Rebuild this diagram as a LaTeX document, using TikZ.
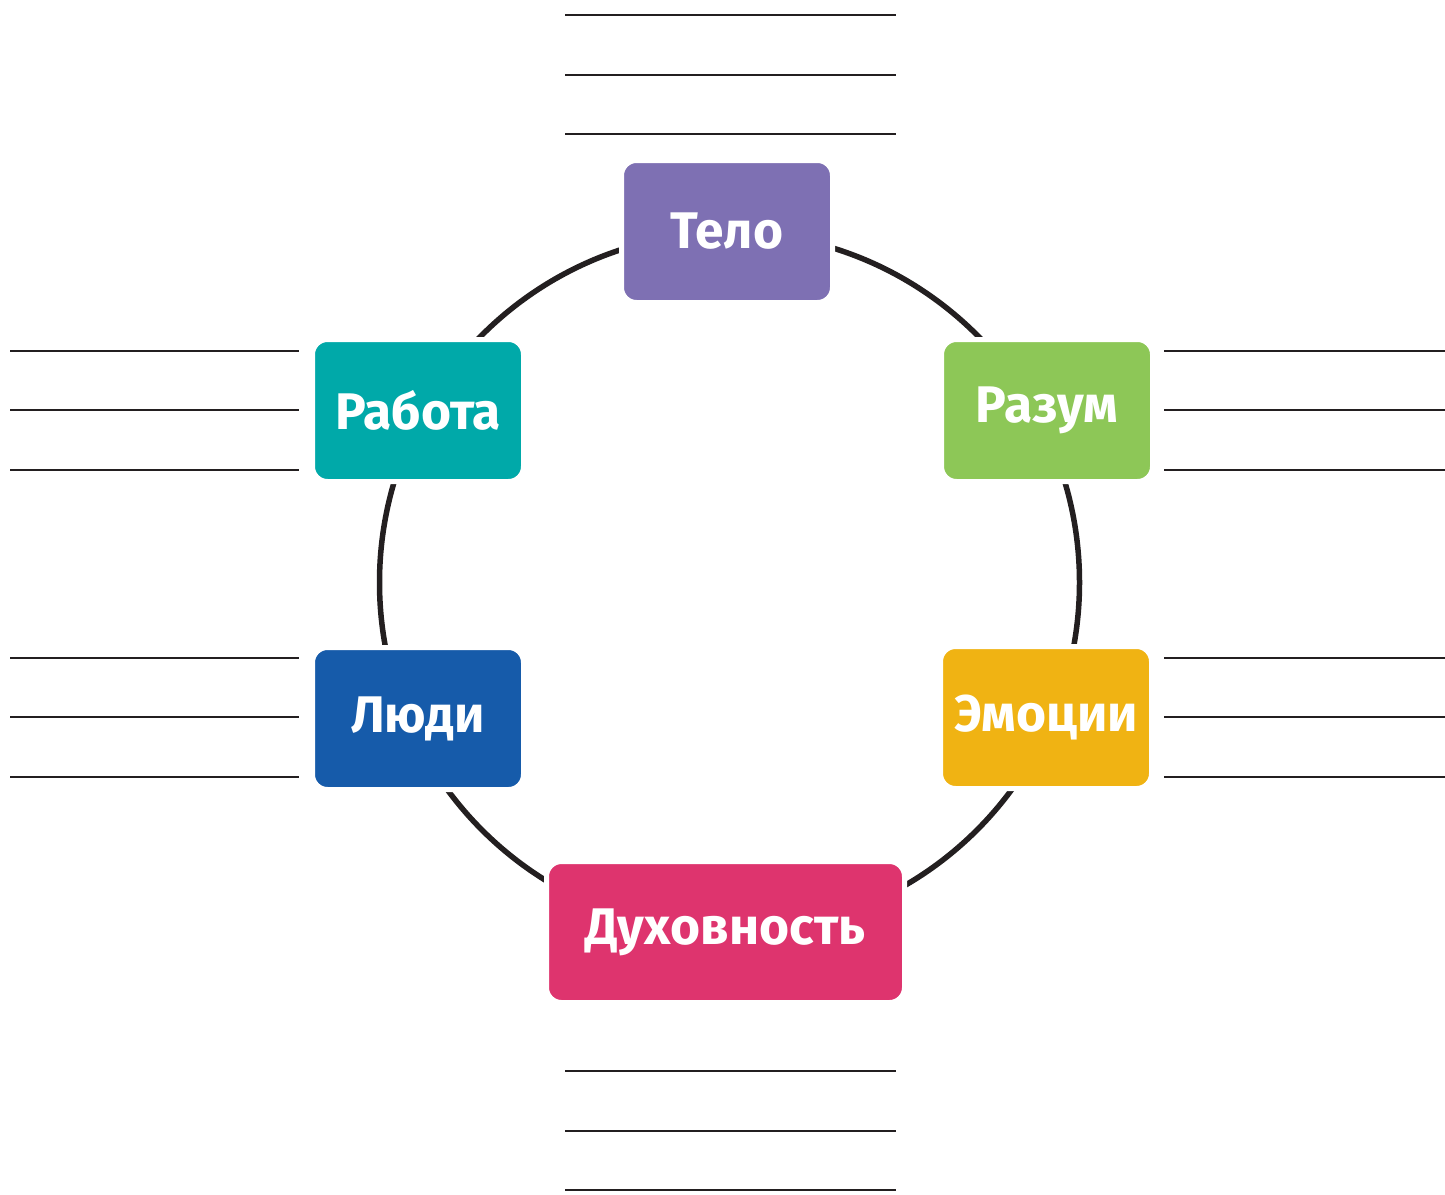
\documentclass[tikz,border=0pt]{standalone}
\usepackage{fontspec}
\setmainfont{Fira Sans}
\definecolor{cTelo}{HTML}{7E70B3}
\definecolor{cRabota}{HTML}{00A9A9}
\definecolor{cRazum}{HTML}{8DC757}
\definecolor{cLyudi}{HTML}{165BAA}
\definecolor{cEmocii}{HTML}{F0B313}
\definecolor{cDuh}{HTML}{DE346E}
\definecolor{ink}{HTML}{231F20}
\begin{document}
\begin{tikzpicture}[x=1pt,y=-1pt,
  box/.style={rounded corners=15pt, draw=white, line width=5pt, minimum width=211pt, minimum height=142pt,
    inner sep=0pt, text=white, font=\fontsize{51.5}{60}\selectfont\bfseries},
  rule/.style={draw=ink, line width=2.6pt}]
\useasboundingbox (0,0) rectangle (1445,1194);
\coordinate (c) at (729.5,582.5);
\draw[ink, line width=5.5pt] (c) circle[radius=350];
\node[box, fill=cTelo] (telo) at (727,231.5) {Тело};
\node[box, fill=cRabota] (rabota) at (418,410.5) {Работа};
\node[box, fill=cRazum] (razum) at (1047,410.5) {Разум};
\node[box, fill=cLyudi] (lyudi) at (418,718.5) {Люди};
\node[box, fill=cEmocii] (emocii) at (1046,717.5) {Эмоции};
\node[box, fill=cDuh, minimum width=358pt, minimum height=141pt] (duh) at (725.5,932) {Духовность};
\foreach \y in {15,75,134,1071,1131,1190} \draw[rule] (565,\y) -- (896,\y);
\foreach \y in {351,410,470,658,717,777} {
  \draw[rule] (10,\y) -- (299,\y);
  \draw[rule] (1164,\y) -- (1445,\y);
}
\end{tikzpicture}
\end{document}
